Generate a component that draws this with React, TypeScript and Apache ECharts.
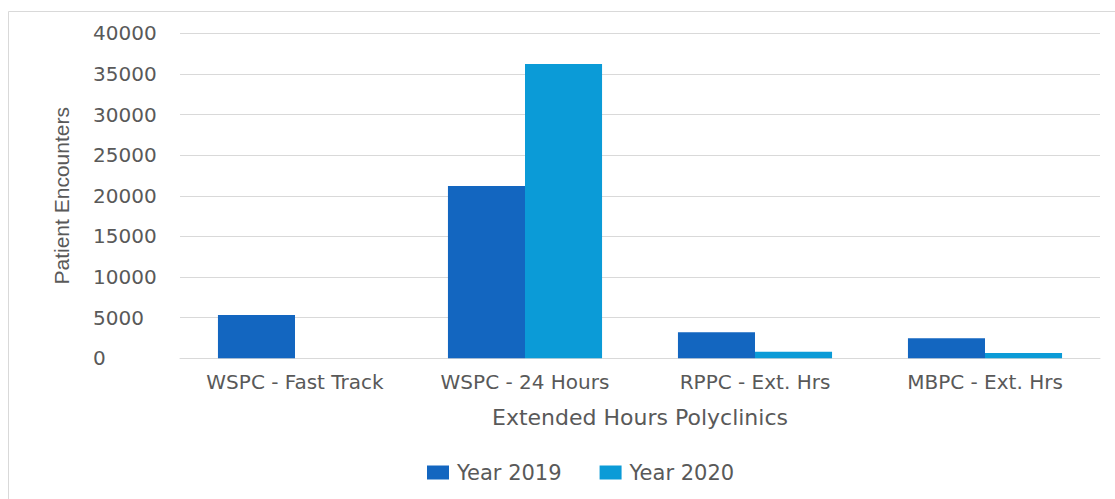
import React, { useEffect, useRef } from "react";
import * as echarts from "echarts";

const categories = ["WSPC - Fast Track", "WSPC - 24 Hours", "RPPC - Ext. Hrs", "MBPC - Ext. Hrs"];
const year2019 = [5330, 21200, 3200, 2460];
const year2020 = [0, 36220, 810, 650];
const seriesNames = ["Year 2019", "Year 2020"];
const yAxisName = "Patient Encounters";
const xAxisName = "Extended Hours Polyclinics";

const TEXT = "#595959";
const GRID = "#d9d9d9";
const FONT = "'DejaVu Sans', sans-serif";

export default function App() {
  const ref = useRef<HTMLDivElement>(null);
  useEffect(() => {
    if (!ref.current) return;
    const chart = echarts.init(ref.current, undefined, { renderer: "svg" });
    chart.setOption({
      animation: false,
      backgroundColor: "#ffffff",
      graphic: [
        {
          type: "rect",
          shape: { x: 8.5, y: 11.5, width: 1200, height: 600 },
          style: { fill: "none", stroke: GRID, lineWidth: 1 },
          silent: true,
          z: -10,
        },
      ],
      grid: { left: 180, right: 15, top: 33.3, bottom: 140.7 },
      legend: {
        left: 427,
        top: 462,
        padding: 0,
        itemWidth: 22,
        itemHeight: 14,
        itemGap: 38,
        icon: "rect",
        textStyle: { color: TEXT, fontSize: 21, fontFamily: FONT, padding: [0, 0, 0, 3] },
        data: seriesNames,
      },
      xAxis: {
        type: "category",
        data: categories,
        name: xAxisName,
        nameLocation: "middle",
        nameGap: 48,
        nameTextStyle: { color: TEXT, fontSize: 22, fontFamily: FONT },
        axisLine: { show: true, lineStyle: { color: GRID, width: 1 } },
        axisTick: { show: false },
        axisLabel: { color: TEXT, fontSize: 20, fontFamily: FONT, margin: 14, interval: 0 },
      },
      yAxis: {
        type: "value",
        min: 0,
        max: 40000,
        interval: 5000,
        name: yAxisName,
        nameLocation: "middle",
        nameGap: 108,
        nameTextStyle: { color: TEXT, fontSize: 21, fontFamily: "'Liberation Sans', sans-serif" },
        axisLine: { show: false },
        axisTick: { show: false },
        splitLine: { lineStyle: { color: GRID, width: 1 } },
        axisLabel: {
          color: TEXT,
          fontSize: 20,
          fontFamily: FONT,
          margin: 87,
          align: "left",
          formatter: (v: number) => String(v),
        },
      },
      series: [
        {
          name: seriesNames[0],
          type: "bar",
          data: year2019,
          barGap: "0%",
          barCategoryGap: "33%",
          itemStyle: { color: "#1366C0" },
        },
        {
          name: seriesNames[1],
          type: "bar",
          data: year2020,
          barGap: "0%",
          barCategoryGap: "33%",
          itemStyle: { color: "#0B9BD7" },
        },
      ],
    });
    return () => chart.dispose();
  }, []);
  return (
    <div
      ref={ref}
      style={{ position: "absolute", left: 0, top: 0, width: 1115, height: 499, overflow: "hidden" }}
    />
  );
}
